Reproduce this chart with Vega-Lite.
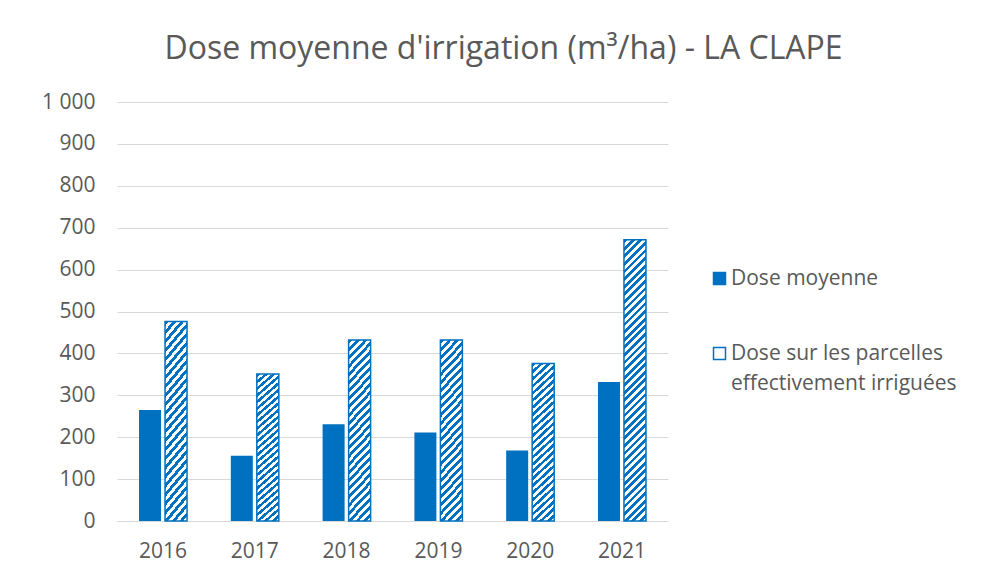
{
  "$schema": "https://vega.github.io/schema/vega-lite/v6.json",
  "width": 551,
  "height": 419,
  "autosize": "none",
  "padding": {"left": 117, "top": 102, "right": 318, "bottom": 59},
  "background": "white",
  "title": {
    "text": "Dose moyenne d'irrigation (m³/ha) - LA CLAPE",
    "font": "Open Sans",
    "fontSize": 32,
    "fontWeight": "normal",
    "color": "#595959",
    "anchor": "middle",
    "dx": 111,
    "offset": 25
  },
  "config": {"view": {"stroke": null}, "font": "Open Sans"},
  "data": {
    "values": [
      {"year": "2016", "series": "Dose moyenne", "value": 265},
      {"year": "2016", "series": "Dose sur les parcelles effectivement irriguées", "value": 476},
      {"year": "2017", "series": "Dose moyenne", "value": 156},
      {"year": "2017", "series": "Dose sur les parcelles effectivement irriguées", "value": 351},
      {"year": "2018", "series": "Dose moyenne", "value": 231},
      {"year": "2018", "series": "Dose sur les parcelles effectivement irriguées", "value": 432},
      {"year": "2019", "series": "Dose moyenne", "value": 211},
      {"year": "2019", "series": "Dose sur les parcelles effectivement irriguées", "value": 432},
      {"year": "2020", "series": "Dose moyenne", "value": 168},
      {"year": "2020", "series": "Dose sur les parcelles effectivement irriguées", "value": 376},
      {"year": "2021", "series": "Dose moyenne", "value": 332},
      {"year": "2021", "series": "Dose sur les parcelles effectivement irriguées", "value": 671}
    ]
  },
  "encoding": {
    "x": {
      "field": "year",
      "type": "nominal",
      "scale": {"paddingInner": 0.477, "paddingOuter": 0.24},
      "axis": {
        "title": null,
        "labelAngle": 0,
        "labelPadding": 19,
        "labelFontSize": 21,
        "labelColor": "#595959",
        "domainColor": "#d9d9d9",
        "domainWidth": 1,
        "ticks": false
      }
    },
    "xOffset": {
      "field": "series",
      "type": "nominal",
      "scale": {
        "domain": ["Dose moyenne", "Dose sur les parcelles effectivement irriguées"],
        "paddingInner": 0.154,
        "paddingOuter": 0
      }
    },
    "y": {
      "field": "value",
      "type": "quantitative",
      "scale": {"domain": [0, 1000]},
      "axis": {
        "title": null,
        "values": [0, 100, 200, 300, 400, 500, 600, 700, 800, 900, 1000],
        "labelExpr": "replace(datum.label, ',', ' ')",
        "grid": true,
        "gridColor": "#d9d9d9",
        "gridWidth": 1,
        "domain": false,
        "ticks": false,
        "labelPadding": 22,
        "labelFontSize": 21,
        "labelColor": "#595959"
      }
    }
  },
  "layer": [
    {
      "transform": [{"filter": "datum.series == 'Dose moyenne'"}],
      "mark": {"type": "bar"},
      "encoding": {
        "color": {
          "field": "series",
          "type": "nominal",
          "scale": {
            "domain": ["Dose moyenne", "Dose sur les parcelles effectivement irriguées"],
            "range": ["#0070c0", "#ffffff"]
          },
          "legend": {
            "title": null,
            "orient": "none",
            "legendX": 592,
            "legendY": 166,
            "symbolType": "square",
            "symbolSize": 144,
            "symbolStrokeColor": "#0070c0",
            "symbolStrokeWidth": 1.5,
            "labelFontSize": 21,
            "labelColor": "#595959",
            "labelLimit": 400,
            "labelOffset": 1,
            "rowPadding": 53,
            "labelExpr": "datum.label == 'Dose moyenne' ? 'Dose moyenne' : ['Dose sur les parcelles', 'effectivement irriguées']",
            "encode": {
              "labels": {"update": {"lineHeight": {"value": 30}}}
            }
          }
        }
      }
    },
    {
      "transform": [{"filter": "datum.series != 'Dose moyenne'"}],
      "mark": {"type": "bar", "stroke": "#0070c0", "strokeWidth": 1.5},
      "encoding": {
        "fill": {
          "condition": {
            "test": "datum.year == '2021'",
            "value": {"gradient": "linear", "x1": 0, "y1": 0, "x2": 0.0839, "y2": 1.0717, "stops": [
              {"offset": 0, "color": "#0070c0"}, {"offset": 0.0125, "color": "#0070c0"}, {"offset": 0.0125, "color": "#fff"}, {"offset": 0.025, "color": "#fff"},
              {"offset": 0.025, "color": "#0070c0"}, {"offset": 0.0375, "color": "#0070c0"}, {"offset": 0.0375, "color": "#fff"}, {"offset": 0.05, "color": "#fff"},
              {"offset": 0.05, "color": "#0070c0"}, {"offset": 0.0625, "color": "#0070c0"}, {"offset": 0.0625, "color": "#fff"}, {"offset": 0.075, "color": "#fff"},
              {"offset": 0.075, "color": "#0070c0"}, {"offset": 0.0875, "color": "#0070c0"}, {"offset": 0.0875, "color": "#fff"}, {"offset": 0.1, "color": "#fff"},
              {"offset": 0.1, "color": "#0070c0"}, {"offset": 0.1125, "color": "#0070c0"}, {"offset": 0.1125, "color": "#fff"}, {"offset": 0.125, "color": "#fff"},
              {"offset": 0.125, "color": "#0070c0"}, {"offset": 0.1375, "color": "#0070c0"}, {"offset": 0.1375, "color": "#fff"}, {"offset": 0.15, "color": "#fff"},
              {"offset": 0.15, "color": "#0070c0"}, {"offset": 0.1625, "color": "#0070c0"}, {"offset": 0.1625, "color": "#fff"}, {"offset": 0.175, "color": "#fff"},
              {"offset": 0.175, "color": "#0070c0"}, {"offset": 0.1875, "color": "#0070c0"}, {"offset": 0.1875, "color": "#fff"}, {"offset": 0.2, "color": "#fff"},
              {"offset": 0.2, "color": "#0070c0"}, {"offset": 0.2125, "color": "#0070c0"}, {"offset": 0.2125, "color": "#fff"}, {"offset": 0.225, "color": "#fff"},
              {"offset": 0.225, "color": "#0070c0"}, {"offset": 0.2375, "color": "#0070c0"}, {"offset": 0.2375, "color": "#fff"}, {"offset": 0.25, "color": "#fff"},
              {"offset": 0.25, "color": "#0070c0"}, {"offset": 0.2625, "color": "#0070c0"}, {"offset": 0.2625, "color": "#fff"}, {"offset": 0.275, "color": "#fff"},
              {"offset": 0.275, "color": "#0070c0"}, {"offset": 0.2875, "color": "#0070c0"}, {"offset": 0.2875, "color": "#fff"}, {"offset": 0.3, "color": "#fff"},
              {"offset": 0.3, "color": "#0070c0"}, {"offset": 0.3125, "color": "#0070c0"}, {"offset": 0.3125, "color": "#fff"}, {"offset": 0.325, "color": "#fff"},
              {"offset": 0.325, "color": "#0070c0"}, {"offset": 0.3375, "color": "#0070c0"}, {"offset": 0.3375, "color": "#fff"}, {"offset": 0.35, "color": "#fff"},
              {"offset": 0.35, "color": "#0070c0"}, {"offset": 0.3625, "color": "#0070c0"}, {"offset": 0.3625, "color": "#fff"}, {"offset": 0.375, "color": "#fff"},
              {"offset": 0.375, "color": "#0070c0"}, {"offset": 0.3875, "color": "#0070c0"}, {"offset": 0.3875, "color": "#fff"}, {"offset": 0.4, "color": "#fff"},
              {"offset": 0.4, "color": "#0070c0"}, {"offset": 0.4125, "color": "#0070c0"}, {"offset": 0.4125, "color": "#fff"}, {"offset": 0.425, "color": "#fff"},
              {"offset": 0.425, "color": "#0070c0"}, {"offset": 0.4375, "color": "#0070c0"}, {"offset": 0.4375, "color": "#fff"}, {"offset": 0.45, "color": "#fff"},
              {"offset": 0.45, "color": "#0070c0"}, {"offset": 0.4625, "color": "#0070c0"}, {"offset": 0.4625, "color": "#fff"}, {"offset": 0.475, "color": "#fff"},
              {"offset": 0.475, "color": "#0070c0"}, {"offset": 0.4875, "color": "#0070c0"}, {"offset": 0.4875, "color": "#fff"}, {"offset": 0.5, "color": "#fff"},
              {"offset": 0.5, "color": "#0070c0"}, {"offset": 0.5125, "color": "#0070c0"}, {"offset": 0.5125, "color": "#fff"}, {"offset": 0.525, "color": "#fff"},
              {"offset": 0.525, "color": "#0070c0"}, {"offset": 0.5375, "color": "#0070c0"}, {"offset": 0.5375, "color": "#fff"}, {"offset": 0.55, "color": "#fff"},
              {"offset": 0.55, "color": "#0070c0"}, {"offset": 0.5625, "color": "#0070c0"}, {"offset": 0.5625, "color": "#fff"}, {"offset": 0.575, "color": "#fff"},
              {"offset": 0.575, "color": "#0070c0"}, {"offset": 0.5875, "color": "#0070c0"}, {"offset": 0.5875, "color": "#fff"}, {"offset": 0.6, "color": "#fff"},
              {"offset": 0.6, "color": "#0070c0"}, {"offset": 0.6125, "color": "#0070c0"}, {"offset": 0.6125, "color": "#fff"}, {"offset": 0.625, "color": "#fff"},
              {"offset": 0.625, "color": "#0070c0"}, {"offset": 0.6375, "color": "#0070c0"}, {"offset": 0.6375, "color": "#fff"}, {"offset": 0.65, "color": "#fff"},
              {"offset": 0.65, "color": "#0070c0"}, {"offset": 0.6625, "color": "#0070c0"}, {"offset": 0.6625, "color": "#fff"}, {"offset": 0.675, "color": "#fff"},
              {"offset": 0.675, "color": "#0070c0"}, {"offset": 0.6875, "color": "#0070c0"}, {"offset": 0.6875, "color": "#fff"}, {"offset": 0.7, "color": "#fff"},
              {"offset": 0.7, "color": "#0070c0"}, {"offset": 0.7125, "color": "#0070c0"}, {"offset": 0.7125, "color": "#fff"}, {"offset": 0.725, "color": "#fff"},
              {"offset": 0.725, "color": "#0070c0"}, {"offset": 0.7375, "color": "#0070c0"}, {"offset": 0.7375, "color": "#fff"}, {"offset": 0.75, "color": "#fff"},
              {"offset": 0.75, "color": "#0070c0"}, {"offset": 0.7625, "color": "#0070c0"}, {"offset": 0.7625, "color": "#fff"}, {"offset": 0.775, "color": "#fff"},
              {"offset": 0.775, "color": "#0070c0"}, {"offset": 0.7875, "color": "#0070c0"}, {"offset": 0.7875, "color": "#fff"}, {"offset": 0.8, "color": "#fff"},
              {"offset": 0.8, "color": "#0070c0"}, {"offset": 0.8125, "color": "#0070c0"}, {"offset": 0.8125, "color": "#fff"}, {"offset": 0.825, "color": "#fff"},
              {"offset": 0.825, "color": "#0070c0"}, {"offset": 0.8375, "color": "#0070c0"}, {"offset": 0.8375, "color": "#fff"}, {"offset": 0.85, "color": "#fff"},
              {"offset": 0.85, "color": "#0070c0"}, {"offset": 0.8625, "color": "#0070c0"}, {"offset": 0.8625, "color": "#fff"}, {"offset": 0.875, "color": "#fff"},
              {"offset": 0.875, "color": "#0070c0"}, {"offset": 0.8875, "color": "#0070c0"}, {"offset": 0.8875, "color": "#fff"}, {"offset": 0.9, "color": "#fff"},
              {"offset": 0.9, "color": "#0070c0"}, {"offset": 0.9125, "color": "#0070c0"}, {"offset": 0.9125, "color": "#fff"}, {"offset": 0.925, "color": "#fff"},
              {"offset": 0.925, "color": "#0070c0"}, {"offset": 0.9375, "color": "#0070c0"}, {"offset": 0.9375, "color": "#fff"}, {"offset": 0.95, "color": "#fff"},
              {"offset": 0.95, "color": "#0070c0"}, {"offset": 0.9625, "color": "#0070c0"}, {"offset": 0.9625, "color": "#fff"}, {"offset": 0.975, "color": "#fff"},
              {"offset": 0.975, "color": "#0070c0"}, {"offset": 0.9875, "color": "#0070c0"}, {"offset": 0.9875, "color": "#fff"}, {"offset": 1, "color": "#fff"}
            ]}
          },
          "value": {"gradient": "linear", "x1": 0, "y1": 0, "x2": 0.1438, "y2": 1.1108, "stops": [
            {"offset": 0, "color": "#0070c0"}, {"offset": 0.02, "color": "#0070c0"}, {"offset": 0.02, "color": "#fff"}, {"offset": 0.04, "color": "#fff"},
            {"offset": 0.04, "color": "#0070c0"}, {"offset": 0.06, "color": "#0070c0"}, {"offset": 0.06, "color": "#fff"}, {"offset": 0.08, "color": "#fff"},
            {"offset": 0.08, "color": "#0070c0"}, {"offset": 0.1, "color": "#0070c0"}, {"offset": 0.1, "color": "#fff"}, {"offset": 0.12, "color": "#fff"},
            {"offset": 0.12, "color": "#0070c0"}, {"offset": 0.14, "color": "#0070c0"}, {"offset": 0.14, "color": "#fff"}, {"offset": 0.16, "color": "#fff"},
            {"offset": 0.16, "color": "#0070c0"}, {"offset": 0.18, "color": "#0070c0"}, {"offset": 0.18, "color": "#fff"}, {"offset": 0.2, "color": "#fff"},
            {"offset": 0.2, "color": "#0070c0"}, {"offset": 0.22, "color": "#0070c0"}, {"offset": 0.22, "color": "#fff"}, {"offset": 0.24, "color": "#fff"},
            {"offset": 0.24, "color": "#0070c0"}, {"offset": 0.26, "color": "#0070c0"}, {"offset": 0.26, "color": "#fff"}, {"offset": 0.28, "color": "#fff"},
            {"offset": 0.28, "color": "#0070c0"}, {"offset": 0.3, "color": "#0070c0"}, {"offset": 0.3, "color": "#fff"}, {"offset": 0.32, "color": "#fff"},
            {"offset": 0.32, "color": "#0070c0"}, {"offset": 0.34, "color": "#0070c0"}, {"offset": 0.34, "color": "#fff"}, {"offset": 0.36, "color": "#fff"},
            {"offset": 0.36, "color": "#0070c0"}, {"offset": 0.38, "color": "#0070c0"}, {"offset": 0.38, "color": "#fff"}, {"offset": 0.4, "color": "#fff"},
            {"offset": 0.4, "color": "#0070c0"}, {"offset": 0.42, "color": "#0070c0"}, {"offset": 0.42, "color": "#fff"}, {"offset": 0.44, "color": "#fff"},
            {"offset": 0.44, "color": "#0070c0"}, {"offset": 0.46, "color": "#0070c0"}, {"offset": 0.46, "color": "#fff"}, {"offset": 0.48, "color": "#fff"},
            {"offset": 0.48, "color": "#0070c0"}, {"offset": 0.5, "color": "#0070c0"}, {"offset": 0.5, "color": "#fff"}, {"offset": 0.52, "color": "#fff"},
            {"offset": 0.52, "color": "#0070c0"}, {"offset": 0.54, "color": "#0070c0"}, {"offset": 0.54, "color": "#fff"}, {"offset": 0.56, "color": "#fff"},
            {"offset": 0.56, "color": "#0070c0"}, {"offset": 0.58, "color": "#0070c0"}, {"offset": 0.58, "color": "#fff"}, {"offset": 0.6, "color": "#fff"},
            {"offset": 0.6, "color": "#0070c0"}, {"offset": 0.62, "color": "#0070c0"}, {"offset": 0.62, "color": "#fff"}, {"offset": 0.64, "color": "#fff"},
            {"offset": 0.64, "color": "#0070c0"}, {"offset": 0.66, "color": "#0070c0"}, {"offset": 0.66, "color": "#fff"}, {"offset": 0.68, "color": "#fff"},
            {"offset": 0.68, "color": "#0070c0"}, {"offset": 0.7, "color": "#0070c0"}, {"offset": 0.7, "color": "#fff"}, {"offset": 0.72, "color": "#fff"},
            {"offset": 0.72, "color": "#0070c0"}, {"offset": 0.74, "color": "#0070c0"}, {"offset": 0.74, "color": "#fff"}, {"offset": 0.76, "color": "#fff"},
            {"offset": 0.76, "color": "#0070c0"}, {"offset": 0.78, "color": "#0070c0"}, {"offset": 0.78, "color": "#fff"}, {"offset": 0.8, "color": "#fff"},
            {"offset": 0.8, "color": "#0070c0"}, {"offset": 0.82, "color": "#0070c0"}, {"offset": 0.82, "color": "#fff"}, {"offset": 0.84, "color": "#fff"},
            {"offset": 0.84, "color": "#0070c0"}, {"offset": 0.86, "color": "#0070c0"}, {"offset": 0.86, "color": "#fff"}, {"offset": 0.88, "color": "#fff"},
            {"offset": 0.88, "color": "#0070c0"}, {"offset": 0.9, "color": "#0070c0"}, {"offset": 0.9, "color": "#fff"}, {"offset": 0.92, "color": "#fff"},
            {"offset": 0.92, "color": "#0070c0"}, {"offset": 0.94, "color": "#0070c0"}, {"offset": 0.94, "color": "#fff"}, {"offset": 0.96, "color": "#fff"},
            {"offset": 0.96, "color": "#0070c0"}, {"offset": 0.98, "color": "#0070c0"}, {"offset": 0.98, "color": "#fff"}, {"offset": 1, "color": "#fff"}
          ]}
        }
      }
    }
  ]
}
